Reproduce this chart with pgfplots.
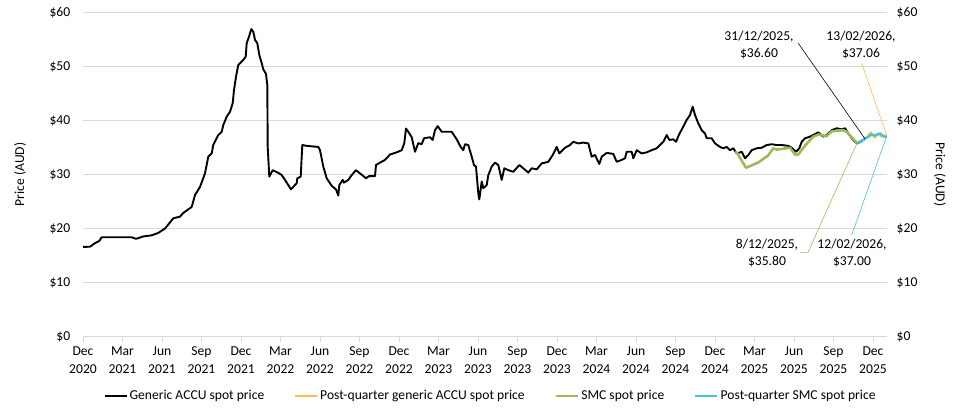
\documentclass[border=0pt]{standalone}
\usepackage{fontspec}
\setmainfont{Carlito}
\usepackage{pgfplots}
\pgfplotsset{compat=1.18}

\definecolor{accuorange}{RGB}{255,185,80}
\definecolor{smcgreen}{RGB}{155,187,89}
\definecolor{smccyan}{RGB}{72,196,208}
\definecolor{gridgray}{RGB}{217,217,217}

\newcommand{\chartfont}{\fontsize{13.6}{17}\selectfont}

\begin{document}
\chartfont
\begin{tikzpicture}
\path[use as bounding box] (-83pt,-79.3pt) rectangle (885pt,336.7pt);

\begin{axis}[
  at={(0,0)}, anchor=south west,
  scale only axis, width=804pt, height=324.4pt,
  xmin=83, xmax=887, ymin=0, ymax=60,
  clip=false,
  axis x line*=bottom, axis y line*=left,
  axis line style={-, draw=gridgray, line width=0.8pt},
  y axis line style={draw=none},
  ytick={0,10,...,60},
  ytick style={draw=none},
  ymajorgrids, grid style={draw=gridgray, line width=0.8pt},
  yticklabel={\$\pgfmathprintnumber{\tick}},
  yticklabel style={xshift=-3pt},
  xtick={83,122.5,162,201.5,241,280.5,320,359.5,399,438.5,478,517.5,557,596.5,636,675.5,715,754.5,794,833.5,873},
  xticklabels={Dec\\2020,Mar\\2021,Jun\\2021,Sep\\2021,Dec\\2021,Mar\\2022,Jun\\2022,Sep\\2022,Dec\\2022,Mar\\2023,Jun\\2023,Sep\\2023,Dec\\2023,Mar\\2024,Jun\\2024,Sep\\2024,Dec\\2024,Mar\\2025,Jun\\2025,Sep\\2025,Dec\\2025},
  xticklabel style={align=center, font=\fontsize{13.6}{18}\selectfont},
  tick align=outside, major tick length=5pt,
  xtick style={draw=gridgray, line width=0.8pt},
  /pgf/number format/assume math mode=true,
  every tick label/.append style={font=\fontsize{13.6}{18}\selectfont},
  legend columns=4,
  legend style={at={(0.507,-0.183)}, anchor=center, draw=none, fill=none,
    font=\chartfont, nodes={inner xsep=2pt},
    /tikz/every even column/.append style={column sep=28pt}},
  legend image code/.code={\draw[#1] (0pt,0pt) -- (22pt,0pt);},
]

% Generic ACCU spot price
\addplot[black, line width=1.9pt, line join=round] coordinates {
(83,16.6)(90,16.65)(95,17.3)(99.3,17.7)(101.7,18.4)(131.7,18.4)(136,18.1)
(143.3,18.55)(151.7,18.75)(158.3,19.2)(165,20.0)(173.3,21.9)(180,22.2)
(183.3,22.9)(191.7,24.0)(195,26.2)(200,27.7)(205,30.2)(208.3,33.3)
(211.7,33.9)(213.3,35.5)(218.3,37.3)(221.7,37.9)(223.3,39.15)(226.7,40.7)
(230,41.6)(232.7,43.2)(234,45.6)(236,48.1)(238.3,50.25)(243.3,51.2)
(245.7,51.8)(246.7,54.3)(249,55.5)(251.3,56.9)(253.3,56.4)(255,54.9)
(257.3,54.3)(259.3,52.1)(261.7,50.6)(263.3,49.45)(266,48.6)(267.3,46.55)
(267.7,35.1)(269.3,29.6)(272.7,30.8)(279.3,30.2)(281.7,29.9)(285,29.0)
(291,27.25)(296.7,28.4)(297.3,29.3)(300.7,29.6)(302.3,35.45)(306.7,35.3)
(318.3,35.1)(320,34.5)(323.3,31.45)(326.7,29.3)(331.7,27.9)(336,27.25)
(338.3,26.1)(339.3,28.05)(342.7,29.0)(344,28.5)(348.3,29.0)(351.7,29.9)
(356,30.8)(360.7,30.1)(366,29.3)(369,29.7)(375,29.7)(376,31.75)(380,32.2)
(385,32.7)(390,33.7)(396.7,34.1)(401.7,34.5)(404.3,35.8)(406,38.5)
(408.3,37.9)(411.7,36.9)(415,34.2)(418.3,35.8)(421.7,35.6)(424,36.7)
(430,36.9)(432.7,36.4)(435,38.2)(437.7,38.95)(441.7,37.9)(446.7,37.9)
(451.7,37.9)(456.7,36.5)(460.7,35.1)(463.3,34.5)(465,35.6)(468.3,35.45)
(471.7,33.3)(474,31.75)(476,31.45)(478.3,26.5)(479.3,25.4)(481.7,28.7)
(483.3,27.45)(486.7,28.05)(488.3,29.9)(491.7,31.45)(495,32.2)(498.3,31.75)
(501.7,29.0)(504.3,31.15)(508.3,30.8)(513.3,30.5)(519.3,31.75)(523.3,31.15)
(528.3,30.35)(531.7,31.15)(536.7,30.95)(541.7,32.05)(548.3,32.35)(552.7,33.6)
(556.7,35.1)(559.3,33.9)(565,34.95)(570,35.45)(573.3,36.05)(578.3,35.75)
(583.3,35.9)(588.3,35.75)(591.7,33.3)(595,33.6)(599.3,31.95)(601.7,33.3)
(606.7,34.0)(613.3,33.8)(616.7,32.35)(621.7,32.7)(625,33.0)(626.7,34.2)
(631.7,34.2)(633.3,33.0)(636.7,34.5)(641.7,33.9)(646.7,34.1)(651.7,34.5)
(656.7,34.85)(660,35.45)(663.3,36.05)(666.7,37.3)(669.3,36.4)(673.3,36.5)
(676,36.05)(679.3,37.5)(683.3,38.85)(686.7,40.1)(690,41.0)(692.7,42.55)
(695,41.0)(698.3,39.45)(701.7,38.2)(705,37.6)(706.7,36.7)(711.7,36.7)
(715,35.75)(720,35.1)(723.3,34.85)(726.7,35.1)(730,34.5)(733.3,34.85)
(736.7,33.9)(741.7,34.2)(745,33.0)(748.3,33.6)(751.7,34.5)(756.7,34.85)
(761.7,34.95)(766.7,35.45)(771.7,35.6)(776.7,35.45)(781.7,35.45)(788.3,35.3)
(791.7,34.95)(796,34.2)(799.3,34.85)(801.7,36.05)(805,36.7)(810,37.0)
(813.3,37.3)(818.3,37.8)(823.3,37.0)(826.7,37.3)(831.7,38.2)(836.7,38.55)
(841.7,38.35)(845,38.55)(848.3,37.6)(851.7,36.7)(855,36.05)(857.3,35.75)
(861,36.1)(865,36.6)
};
\addlegendentry{Generic ACCU spot price}

% Post-quarter generic ACCU spot price
\addplot[accuorange, line width=1.9pt, line join=round] coordinates {
(865,36.6)(867,36.8)(869,37.5)(871,37.8)(873,37.2)(875,36.8)(877,37.3)
(879,37.5)(881,37.0)(884,37.2)(887,37.06)
};
\addlegendentry{Post-quarter generic ACCU spot price}

% SMC spot price
\addplot[smcgreen, line width=2.6pt, line join=round] coordinates {
(735,34.2)(737,34.0)(746,31.25)(758,32.2)(768,33.5)(773.3,34.85)(776.7,34.6)
(790,34.95)(795,33.7)(798.3,33.7)(803.3,34.95)(810,36.4)(813.3,37.0)
(818.3,37.4)(826.7,37.1)(831.7,38.0)(843.3,38.2)(846.7,37.9)(857,35.8)
};
\addlegendentry{SMC spot price}

% Post-quarter SMC spot price
\addplot[smccyan, line width=2.4pt, line join=round] coordinates {
(857,35.8)(860,36.1)(863,36.4)(866,36.8)(868.5,37.0)(871.5,37.4)(875,37.2)
(878,37.5)(880,37.6)(882,37.3)(884,37.0)(886.5,37.0)
};
\addlegendentry{Post-quarter SMC spot price}

% data labels with leader lines
\draw[black, line width=0.6pt] (axis cs:798.3,54.26) -- (axis cs:865,36.6);
\node[align=center, font=\chartfont] at (axis cs:759,53.9) {31/12/2025,\\\$36.60};
\draw[accuorange, line width=0.6pt] (axis cs:861.7,50.56) -- (axis cs:887,37.06);
\node[align=center, font=\chartfont] at (axis cs:861,53.9) {13/02/2026,\\\$37.06};
\draw[smcgreen, line width=0.6pt] (axis cs:800,15.61) -- (axis cs:808,15.61) -- (axis cs:857,35.8);
\node[align=center, font=\chartfont] at (axis cs:767,15.5) {8/12/2025,\\\$35.80};
\draw[smccyan, line width=0.6pt] (axis cs:851.7,18.81) -- (axis cs:886.5,37.0);
\node[align=center, font=\chartfont] at (axis cs:852,15.5) {12/02/2026,\\\$37.00};

% axis titles
\node[rotate=90, font=\chartfont] at (axis cs:20,30) {Price (AUD)};
\node[rotate=-90, font=\chartfont] at (axis cs:940,30) {Price (AUD)};
\end{axis}

\begin{axis}[
  at={(0,0)}, anchor=south west,
  scale only axis, width=804pt, height=324.4pt,
  xmin=83, xmax=887, ymin=0, ymax=60,
  axis x line=none, axis y line*=right,
  y axis line style={draw=none},
  ytick={0,10,...,60},
  ytick style={draw=none},
  yticklabel={\$\pgfmathprintnumber{\tick}},
  yticklabel style={xshift=5pt},
  /pgf/number format/assume math mode=true,
  every tick label/.append style={font=\fontsize{13.6}{18}\selectfont},
]
\addplot[draw=none] coordinates {(83,0)(887,60)};
\end{axis}
\end{tikzpicture}
\end{document}
